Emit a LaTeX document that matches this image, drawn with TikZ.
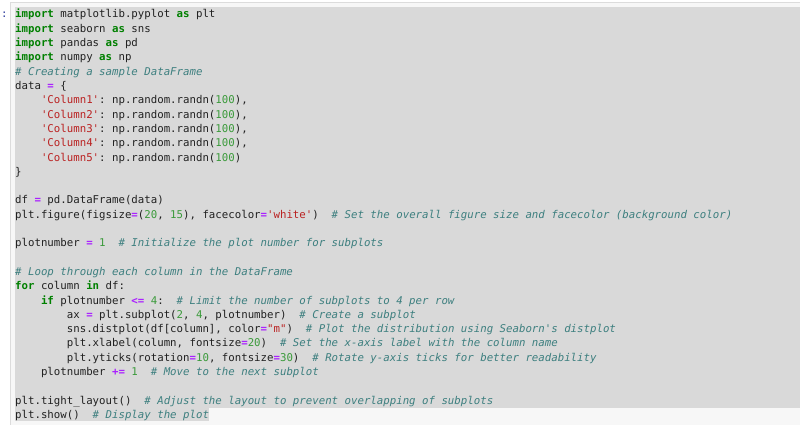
\documentclass[tikz,border=0pt]{standalone}
\usepackage{fontspec}
\setmonofont{DejaVu Sans Mono}
\usepackage{tikz}

\definecolor{kwgreen}{HTML}{008000}
\definecolor{numgreen}{HTML}{3A9A3A}
\definecolor{oppurple}{HTML}{AA22FF}
\definecolor{strred}{HTML}{BA2121}
\definecolor{cmtteal}{HTML}{3D7F7F}
\definecolor{selgray}{HTML}{D9D9D9}
\definecolor{cellbg}{HTML}{F7F7F7}
\definecolor{framegray}{HTML}{DCDCDC}
\definecolor{promptblue}{HTML}{303F9F}
\definecolor{codeblack}{HTML}{212121}

\newcommand{\codefont}{\ttfamily\fontsize{10.73}{14.3}\selectfont}
\newcommand{\kw}[1]{\textcolor{kwgreen}{\bfseries #1}}
\newcommand{\pyop}[1]{\textcolor{oppurple}{\bfseries #1}}
\newcommand{\pystr}[1]{\textcolor{strred}{#1}}
\newcommand{\pynum}[1]{\textcolor{numgreen}{#1}}
\newcommand{\pycmt}[1]{\textcolor{cmtteal}{\itshape #1}}

\begin{document}
\begin{tikzpicture}[x=1pt,y=-1pt,
    code/.style={anchor=base west,inner sep=0pt,text=codeblack,font=\codefont}]
        \useasboundingbox (0,0) rectangle (800,425);
        \fill[white] (0,0) rectangle (800,425);
        \draw[framegray,fill=cellbg] (10.5,2.5) rectangle (806,432);
        \fill[selgray] (15,7) rectangle (800,408);
        \fill[selgray] (15,408) rectangle (209,421);
        \node[code,text=promptblue] (P) at (1,18) {:};
        \node[code] (L1) at (15,18) {\kw{import} matplotlib.pyplot \kw{as} plt};
        \node[code] (L2) at (15,32.3) {\kw{import} seaborn \kw{as} sns};
        \node[code] (L3) at (15,46.6) {\kw{import} pandas \kw{as} pd};
        \node[code] (L4) at (15,60.9) {\kw{import} numpy \kw{as} np};
        \node[code] (L5) at (15,75.2) {\pycmt{\# Creating a sample DataFrame}};
        \node[code] (L6) at (15,89.5) {data \pyop{=} \{};
        \node[code] (L7) at (15,103.8) {~~~~\pystr{'Column1'}: np.random.randn(\pynum{100}),};
        \node[code] (L8) at (15,118.1) {~~~~\pystr{'Column2'}: np.random.randn(\pynum{100}),};
        \node[code] (L9) at (15,132.4) {~~~~\pystr{'Column3'}: np.random.randn(\pynum{100}),};
        \node[code] (L10) at (15,146.7) {~~~~\pystr{'Column4'}: np.random.randn(\pynum{100}),};
        \node[code] (L11) at (15,161) {~~~~\pystr{'Column5'}: np.random.randn(\pynum{100})};
        \node[code] (L12) at (15,175.3) {\}};
        \node[code] (L14) at (15,203.9) {df \pyop{=} pd.DataFrame(data)};
        \node[code] (L15) at (15,218.2) {plt.figure(figsize\pyop{=}(\pynum{20}, \pynum{15}), facecolor\pyop{=}\pystr{'white'})~~\pycmt{\# Set the overall figure size and facecolor (background color)}};
        \node[code] (L17) at (15,246.8) {plotnumber \pyop{=} \pynum{1}~~\pycmt{\# Initialize the plot number for subplots}};
        \node[code] (L19) at (15,275.4) {\pycmt{\# Loop through each column in the DataFrame}};
        \node[code] (L20) at (15,289.7) {\kw{for} column \kw{in} df:};
        \node[code] (L21) at (15,304) {~~~~\kw{if} plotnumber \pyop{<=} \pynum{4}:~~\pycmt{\# Limit the number of subplots to 4 per row}};
        \node[code] (L22) at (15,318.3) {~~~~~~~~ax \pyop{=} plt.subplot(\pynum{2}, \pynum{4}, plotnumber)~~\pycmt{\# Create a subplot}};
        \node[code] (L23) at (15,332.6) {~~~~~~~~sns.distplot(df[column], color\pyop{=}\pystr{"m"})~~\pycmt{\# Plot the distribution using Seaborn's distplot}};
        \node[code] (L24) at (15,346.9) {~~~~~~~~plt.xlabel(column, fontsize\pyop{=}\pynum{20})~~\pycmt{\# Set the x-axis label with the column name}};
        \node[code] (L25) at (15,361.2) {~~~~~~~~plt.yticks(rotation\pyop{=}\pynum{10}, fontsize\pyop{=}\pynum{30})~~\pycmt{\# Rotate y-axis ticks for better readability}};
        \node[code] (L26) at (15,375.5) {~~~~plotnumber \pyop{+=} \pynum{1}~~\pycmt{\# Move to the next subplot}};
        \node[code] (L28) at (15,404.1) {plt.tight\_layout()~~\pycmt{\# Adjust the layout to prevent overlapping of subplots}};
        \node[code] (L29) at (15,418.4) {plt.show()~~\pycmt{\# Display the plot}};
    \end{tikzpicture}
\end{document}
